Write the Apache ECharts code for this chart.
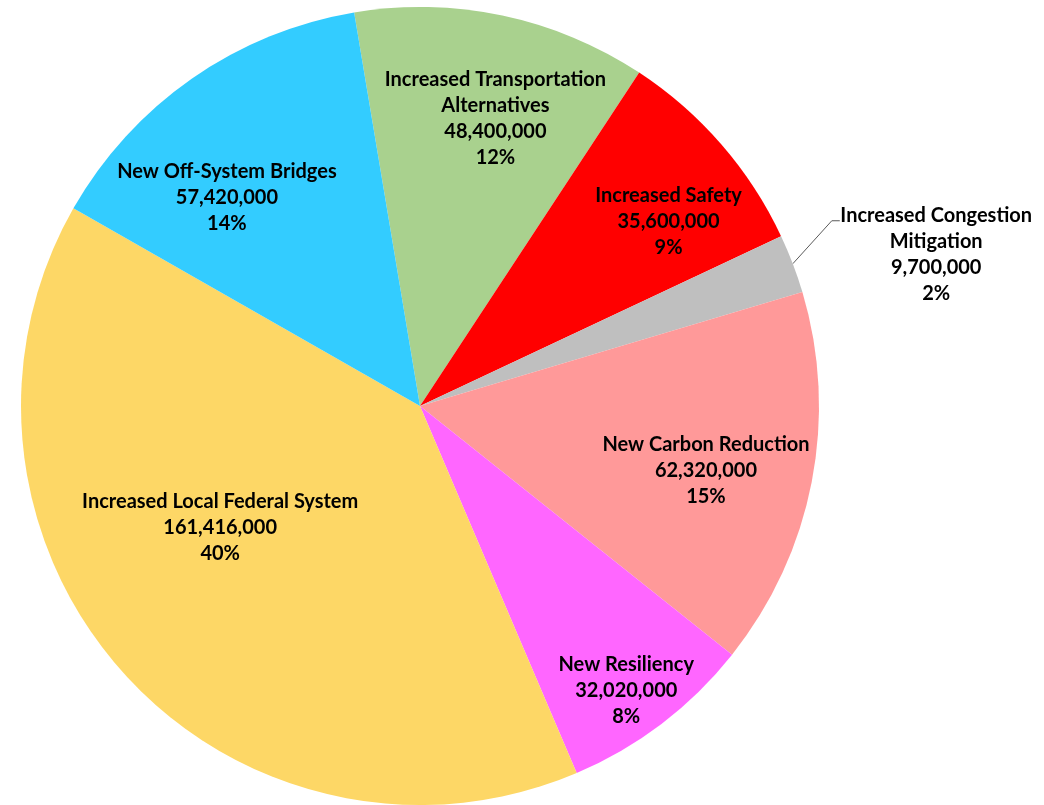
<!DOCTYPE html>
<html>
<head>
<meta charset="utf-8">
<script src="https://cdn.jsdelivr.net/npm/echarts@6/dist/echarts.min.js"></script>
<style>
  html, body { margin: 0; padding: 0; background: #fff; }
  #chart { width: 1044px; height: 805px; }
</style>
</head>
<body>
<div id="chart"></div>
<script>
const names = [
  'Increased Transportation\nAlternatives',
  'Increased Safety',
  'Increased Congestion\nMitigation',
  'New Carbon Reduction',
  'New Resiliency',
  'Increased Local Federal System',
  'New Off-System Bridges'
]
const amounts = [48400000, 35600000, 9700000, 62320000, 32020000, 161416000, 57420000]
const colors = ['#A9D18E', '#FF0000', '#BFBFBF', '#FF9999', '#FF66FF', '#FDD766', '#33CCFF']

// small nudges so inside labels sit where the original put them
const labelNudge = [[13, 9], [20, 14], [0, 0], [-11, 7], [23, 44], [26, -80], [-20, 40]]

const center = [420, 406]
const radius = 399
const font = {
  fontFamily: 'Lato',
  fontWeight: 'bold',
  fontSize: 20,
  lineHeight: 26,
  color: '#000'
}
const fmt = p => p.name + '\n' + p.value.toLocaleString('en-US') + '\n' + p.percent + '%'

const chart = echarts.init(document.getElementById('chart'))

const mainData = names.map((n, i) => ({
  name: n,
  value: amounts[i],
  itemStyle: { color: colors[i] },
  label: { show: i === 2 },
  labelLine: { show: i === 2 }
}))
const labelData = names.map((n, i) => ({
  name: n,
  value: amounts[i],
  label: { show: i !== 2 }
}))

chart.setOption({
  animation: false,
  series: [{
    type: 'pie',
    center: center,
    radius: [0, radius],
    startAngle: 99.5,
    clockwise: true,
    percentPrecision: 0,
    avoidLabelOverlap: false,
    silent: true,
    itemStyle: { borderWidth: 0 },
    label: {
      position: 'outside',
      formatter: p => '{c|' + fmt(p).split('\n').join('}\n{c|') + '}',
      rich: { c: Object.assign({ align: 'center' }, font) }
    },
    labelLine: {
      length: 52,
      length2: 8,
      lineStyle: { color: '#595959', width: 1 }
    },
    // bend the leader line up to the first text row, as in the original
    labelLayout: p => {
      const s = p.labelLinePoints ? p.labelLinePoints[0] : null
      const out = { dx: -14, dy: 9 }
      if (s) {
        out.labelLinePoints = [
          [s[0], s[1]],
          [s[0] + 39, s[1] - 43],
          [s[0] + 47, s[1] - 43]
        ]
      }
      return out
    },
    data: mainData
  }, {
    type: 'pie',
    center: center,
    radius: [200, radius],
    startAngle: 99.5,
    clockwise: true,
    percentPrecision: 0,
    avoidLabelOverlap: false,
    silent: true,
    itemStyle: { color: 'transparent' },
    label: Object.assign({
      position: 'inside',
      formatter: fmt,
      align: 'center'
    }, font),
    labelLayout: p => ({ dx: labelNudge[p.dataIndex][0], dy: labelNudge[p.dataIndex][1] }),
    data: labelData
  }]
})
window.onresize = () => chart.resize()
</script>
</body>
</html>
